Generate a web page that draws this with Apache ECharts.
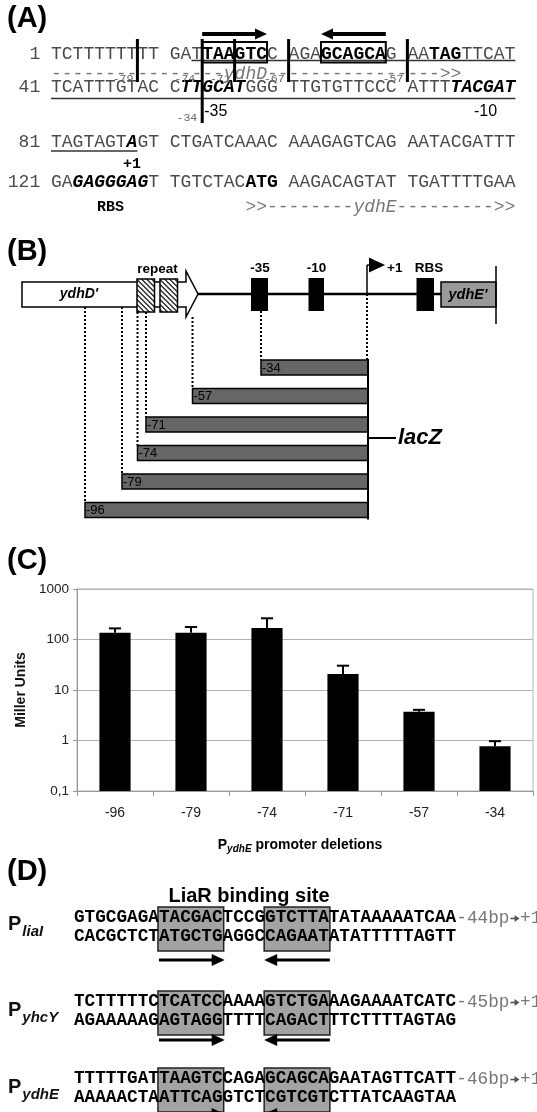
<!DOCTYPE html>
<html><head><meta charset="utf-8">
<script src="https://cdn.jsdelivr.net/npm/echarts@6/dist/echarts.min.js"></script>
<style>html,body{margin:0;padding:0;background:#fff;}#chart{width:537px;height:1112px;}</style>
</head><body><div id="chart"></div>
<script>
// ---------- Panel C data ----------
const categories = ['-96', '-79', '-74', '-71', '-57', '-34'];
const millerUnits = [136, 136, 169, 20.7, 3.7, 0.77];
const millerErrors = [30, 41, 94, 9.6, 0.35, 0.2];
const yTickLabels = ['0,1', '1', '10', '100', '1000'];

// ---------- Panel B deletion constructs ----------
const deletionLabels = ['-34', '-57', '-71', '-74', '-79', '-96'];

// ---------- Panel D sequences ----------
const promoterNames = ['liaI', 'yhcY', 'ydhE'];
const promoterTop = ['GTGCGAGATACGACTCCGGTCTTATATAAAAATCAA', 'TCTTTTTCTCATCCAAAAGTCTGAAAGAAAATCATC', 'TTTTTGATTAAGTCCAGAGCAGCAGAATAGTTCATT'];
const promoterBottom = ['CACGCTCTATGCTGAGGCCAGAATATATTTTTAGTT', 'AGAAAAAGAGTAGGTTTTCAGACTTTCTTTTAGTAG', 'AAAAACTAATTCAGGTCTCGTCGTCTTATCAAGTAA'];
const promoterTail = ['-44bp\u2192+1', '-45bp\u2192+1', '-46bp\u2192+1'];

// ---------- helpers ----------
const MONO = '"Liberation Mono","DejaVu Sans Mono",monospace';
const SANS = '"Liberation Sans",Arial,Helvetica,sans-serif';
const mc = document.createElement('canvas').getContext('2d');
function tw(t, font) { mc.font = font; return mc.measureText(t).width; }
const els = []; let zc = 0;
function add(e) { e.z2 = zc++; e.silent = true; els.push(e); return e; }
function text(x, y, t, font, fill, align, va) {
  return add({ type: 'text', x: x, y: y, style: { text: t, font: font, fill: fill || '#000',
    textAlign: align || 'left', textVerticalAlign: va || 'middle', align: align || 'left', verticalAlign: va || 'middle' } });
}
function line(x1, y1, x2, y2, w, color, dash) {
  return add({ type: 'line', shape: { x1: x1, y1: y1, x2: x2, y2: y2 }, style: { stroke: color || '#000', lineWidth: w || 1, lineDash: dash || null, fill: 'none' } });
}
function rect(x, y, w, h, fill, stroke, lw) {
  return add({ type: 'rect', shape: { x: x, y: y, width: w, height: h }, style: { fill: fill || 'none', stroke: stroke || 'none', lineWidth: lw || 1 } });
}
function poly(pts, fill, stroke, lw) {
  return add({ type: 'polygon', shape: { points: pts }, style: { fill: fill || 'none', stroke: stroke || 'none', lineWidth: lw || 1 } });
}
function arrow(x1, x2, y, dir, th, hl, hh, color) {
  const c = color || '#000';
  if (dir > 0) { line(x1, y, x2 - hl + 1, y, th, c); poly([[x2 - hl, y - hh], [x2, y], [x2 - hl, y + hh]], c); }
  else { line(x1 + hl - 1, y, x2, y, th, c); poly([[x1 + hl, y - hh], [x1, y], [x1 + hl, y + hh]], c); }
}
function hatch(x, y, w, h, step) {
  rect(x, y, w, h, '#fff', null);
  for (let d = -h + step / 2; d < w; d += step) {
    let sx, sy, ex, ey;
    if (d >= 0) { sx = x + d; sy = y; } else { sx = x; sy = y - d; }
    if (d + h <= w) { ex = x + d + h; ey = y + h; } else { ex = x + w; ey = y + (w - d); }
    line(sx, sy, ex, ey, 1.3, '#222');
  }
  rect(x, y, w, h, 'none', '#000', 1.5);
}
const PANEL_FONT = 'bold 29px ' + SANS;

// ================= Panel A =================
text(7, 19, '(A)', PANEL_FONT);
const A_FS = 18, CW = A_FS * 0.6, AX = 51;
const stA = {
  n: { font: A_FS + 'px ' + MONO, fill: '#4a4a4a' },
  b: { font: 'bold ' + A_FS + 'px ' + MONO, fill: '#000' },
  bi: { font: 'italic bold ' + A_FS + 'px ' + MONO, fill: '#000' },
  g: { font: A_FS + 'px ' + MONO, fill: '#777' },
  gi: { font: 'italic ' + A_FS + 'px ' + MONO, fill: '#777' }
};
function seqRow(x0, cw, y, segs, st, start) {
  let i = start || 0;
  segs.forEach(function (sg) { text(x0 + i * cw, y, sg[0], st[sg[1]].font, st[sg[1]].fill); i += sg[0].length; });
}
const rowY = [54, 87.5, 142, 182];
const rowNums = ['  1', ' 41', ' 81', '121'];
rowNums.forEach(function (r, k) { text(AX - 4 * CW, rowY[k], r, stA.n.font, stA.n.fill); });
seqRow(AX, CW, rowY[0], [['TCTTTTTTTT GAT', 'n'], ['TAAGTC', 'b'], ['C AGA', 'n'], ['GCAGCA', 'b'], ['G AA', 'n'], ['TAG', 'b'], ['TTCAT', 'n']], stA);
seqRow(AX, CW, 74, [['----------------', 'g'], ['ydhD', 'gi'], ['----------------', 'g'], ['>>', 'g']], stA);
seqRow(AX, CW, rowY[1], [['TCATTTGTAC C', 'n'], ['TTGCAT', 'bi'], ['GGG TTGTGTTCCC ATTT', 'n'], ['TACGAT', 'bi']], stA);
seqRow(AX, CW, rowY[2], [['TAGTAGT', 'n'], ['A', 'bi'], ['GT CTGATCAAAC AAAGAGTCAG AATACGATTT', 'n']], stA);
seqRow(AX, CW, rowY[3], [['GA', 'n'], ['GAGGGAG', 'bi'], ['T TGTCTAC', 'n'], ['ATG', 'b'], [' AAGACAGTAT TGATTTTGAA', 'n']], stA);
seqRow(AX, CW, 207, [['>>--------', 'g'], ['ydhE', 'gi'], ['--------->>', 'g']], stA, 18);
text(AX + 7.5 * CW, 164, '+1', 'bold 15px ' + MONO, '#000', 'center');
text(AX + 5.5 * CW, 207, 'RBS', 'bold 15px ' + MONO, '#000', 'center');
// underlines
line(AX + 13 * CW, 60.5, AX + 43 * CW, 60.5, 1.5, '#333');
line(AX, 98.5, AX + 43 * CW, 98.5, 1.5, '#333');
line(AX, 151, AX + 8 * CW, 151, 1.5, '#333');
// boxes and arrows
rect(AX + 14 * CW, 42, 6 * CW, 20.5, 'none', '#000', 2);
rect(AX + 25 * CW, 42, 6 * CW, 20.5, 'none', '#000', 2);
arrow(AX + 14 * CW, AX + 20 * CW, 34, 1, 4, 12, 5.5);
arrow(AX + 25 * CW, AX + 31 * CW, 34, -1, 4, 12, 5.5);
// deletion end points
const smallF = '11.5px ' + MONO;
[[8, '-79', 4], [14, '-74', 7], [17, '-71', 4], [22, '-67', 4], [33, '-57', 4]].forEach(function (p) {
  const lx = AX + p[0] * CW;
  line(lx, 39, lx, p[1] === '-74' ? 123 : 82, 3, '#000');
  text(lx - p[2], 79, p[1], smallF, '#666', 'right');
});
text(AX + 14 * CW - 5, 118, '-34', smallF, '#666', 'right');
text(AX + 14 * CW + 2, 112, '-35', '16px ' + SANS, '#000');
text(474, 112, '-10', '16px ' + SANS, '#000');

// ================= Panel B =================
text(7, 252, '(B)', PANEL_FONT);
const bLab = 'bold 13.5px ' + SANS;
poly([[22, 282], [186, 282], [186, 271], [198, 294], [186, 317], [186, 307], [22, 307]], '#fff', '#000', 1.5);
text(79, 294.5, "ydhD'", 'italic bold 14px ' + SANS, '#000', 'center');
hatch(137, 279, 17.5, 33, 5);
hatch(160, 279, 17.5, 33, 5);
line(198, 294, 441, 294, 2.5, '#000');
rect(251, 278, 17, 33, '#000');
rect(308.5, 278, 15.5, 33, '#000');
rect(416.5, 278, 17.5, 33, '#000');
rect(441, 282, 55, 25, '#999', '#000', 1.5);
line(496, 266, 496, 324, 1.5, '#000');
text(468, 294.5, "ydhE'", 'italic bold 14.5px ' + SANS, '#000', 'center');
line(367, 294, 367, 265, 1.5, '#000');
poly([[369, 257.5], [385, 265], [369, 272.5]], '#000');
line(367, 265, 370, 265, 1.5, '#000');
text(157.5, 269, 'repeat', bLab, '#000', 'center');
text(260, 268, '-35', bLab, '#000', 'center');
text(316.5, 268, '-10', bLab, '#000', 'center');
text(387, 268, '+1', bLab, '#000', 'left');
text(429, 268, 'RBS', bLab, '#000', 'center');
// deletion constructs
const barLeft = [261, 192.5, 146, 137.5, 122, 85];
const barTop = [360, 388.5, 417, 445.5, 474, 502.5];
const dotTop = [311, 317, 312, 312, 307, 307];
deletionLabels.forEach(function (lab, k) {
  line(barLeft[k], dotTop[k], barLeft[k], barTop[k], 2, '#000', [2, 2]);
  rect(barLeft[k], barTop[k], 368 - barLeft[k], 15, '#666', '#000', 1.5);
  text(barLeft[k] + 1, barTop[k] + 8, lab, '13px ' + SANS, '#000');
});
line(367, 294, 367, 360, 2, '#000', [2, 2]);
line(368, 359, 368, 519.5, 2, '#000');
line(368, 438, 396, 438, 2, '#000');
text(398, 438, 'lacZ', 'italic bold 22px ' + SANS, '#000');

// ================= Panel C (labels) =================
text(7, 561, '(C)', PANEL_FONT);
const xnF = 'bold 14px ' + SANS, xnS = 'italic bold 10px ' + SANS;
const w1 = tw('P', xnF), w2 = tw('ydhE', xnS), w3 = tw(' promoter deletions', xnF);
const sx = 300 - (w1 + w2 + w3) / 2;
text(sx, 845, 'P', xnF);
text(sx + w1, 849, 'ydhE', xnS);
text(sx + w1 + w2, 845, ' promoter deletions', xnF);

// ================= Panel D =================
text(7, 872, '(D)', PANEL_FONT);
text(249, 896, 'LiaR binding site', 'bold 20px ' + SANS, '#000', 'center');
const D_CW = 10.62, D_FS = D_CW / 0.6, DX = 74;
const dLine1 = [918, 1002, 1079], dGap = 19, dArrowY = [960, 1040, 1114];
const pF = 'bold 20px ' + SANS, pS = 'italic bold 15px ' + SANS;
promoterNames.forEach(function (nm, k) {
  const y1 = dLine1[k], y2 = y1 + dGap;
  [[8, 14], [18, 24]].forEach(function (r) {
    rect(DX + r[0] * D_CW - 1, y1 - 11, (r[1] - r[0]) * D_CW + 2, (y2 + 14) - (y1 - 11), '#a3a3a3', '#222', 1.5);
  });
  text(DX, y1, promoterTop[k], 'bold ' + D_FS + 'px ' + MONO, '#000');
  text(DX, y2, promoterBottom[k], 'bold ' + D_FS + 'px ' + MONO, '#000');
  promoterTail[k].split('').forEach(function (ch, j) {
    const cx = DX + (36 + j) * D_CW;
    if (ch === '\u2192') arrow(cx + 1, cx + D_CW - 0.5, y1 + 0.5, 1, 1.6, 5, 3.5, '#555');
    else text(cx, y1, ch, D_FS + 'px ' + MONO, '#777');
  });
  arrow(DX + 8 * D_CW, DX + 14 * D_CW + 2, dArrowY[k], 1, 3, 13, 6);
  arrow(DX + 18 * D_CW - 1, DX + 24 * D_CW + 1, dArrowY[k], -1, 3, 13, 6);
  const pw = tw('P', pF);
  text(8, y1 + (k === 0 ? 0 : 2) + 6, 'P', pF, '#111');
  text(8 + pw + 1, y1 + (k === 0 ? 0 : 2) + 14, nm, pS, '#111');
});

// ================= Chart =================
const chart = echarts.init(document.getElementById('chart'), null, { renderer: 'canvas', width: 537, height: 1112 });
chart.setOption({
  animation: false,
  backgroundColor: '#fff',
  grid: { left: 77, top: 589, width: 456, height: 202, show: true, borderColor: '#b3b3b3', borderWidth: 1, containLabel: false, outerBoundsMode: 'none' },
  xAxis: {
    type: 'category', data: categories, boundaryGap: true,
    axisLine: { show: true, lineStyle: { color: '#999', width: 1 } },
    axisTick: { show: true, length: 5, alignWithLabel: false, lineStyle: { color: '#999' } },
    axisLabel: { fontFamily: SANS, fontSize: 14, color: '#222', margin: 15 },
    splitLine: { show: false }
  },
  yAxis: {
    type: 'log', logBase: 10, min: 0.1, max: 1000,
    axisLine: { show: true, lineStyle: { color: '#999', width: 1 } },
    axisTick: { show: true, length: 4, lineStyle: { color: '#999' } },
    splitLine: { show: true, lineStyle: { color: '#b3b3b3', width: 1 } },
    axisLabel: { fontFamily: SANS, fontSize: 13.5, color: '#222', margin: 8,
      formatter: function (v) { return yTickLabels[Math.round(Math.log10(v)) + 1]; } },
    name: 'Miller Units', nameLocation: 'middle', nameGap: 44, nameRotate: 90,
    nameTextStyle: { fontFamily: SANS, fontWeight: 'bold', fontSize: 14, color: '#111' }
  },
  series: [{
    type: 'custom', coordinateSystem: 'cartesian2d',
    data: categories.map(function (c, i) { return [i, millerUnits[i], millerErrors[i]]; }),
    encode: { x: 0, y: 1 },
    renderItem: function (params, api) {
      const i = api.value(0), v = api.value(1), e = api.value(2);
      const bw = api.size([1, 1])[0];
      const w = bw * 0.41, capW = bw * 0.16;
      const top = api.coord([i, v]), base = api.coord([i, 0.1]), err = api.coord([i, v + e]);
      return { type: 'group', children: [
        { type: 'rect', shape: { x: top[0] - w / 2, y: top[1], width: w, height: base[1] - top[1] }, style: { fill: '#000' } },
        { type: 'line', shape: { x1: top[0], y1: top[1], x2: top[0], y2: err[1] }, style: { stroke: '#000', lineWidth: 2 } },
        { type: 'line', shape: { x1: top[0] - capW / 2, y1: err[1], x2: top[0] + capW / 2, y2: err[1] }, style: { stroke: '#000', lineWidth: 2 } }
      ] };
    }
  }],
  graphic: { elements: els }
});
</script>
</body></html>
